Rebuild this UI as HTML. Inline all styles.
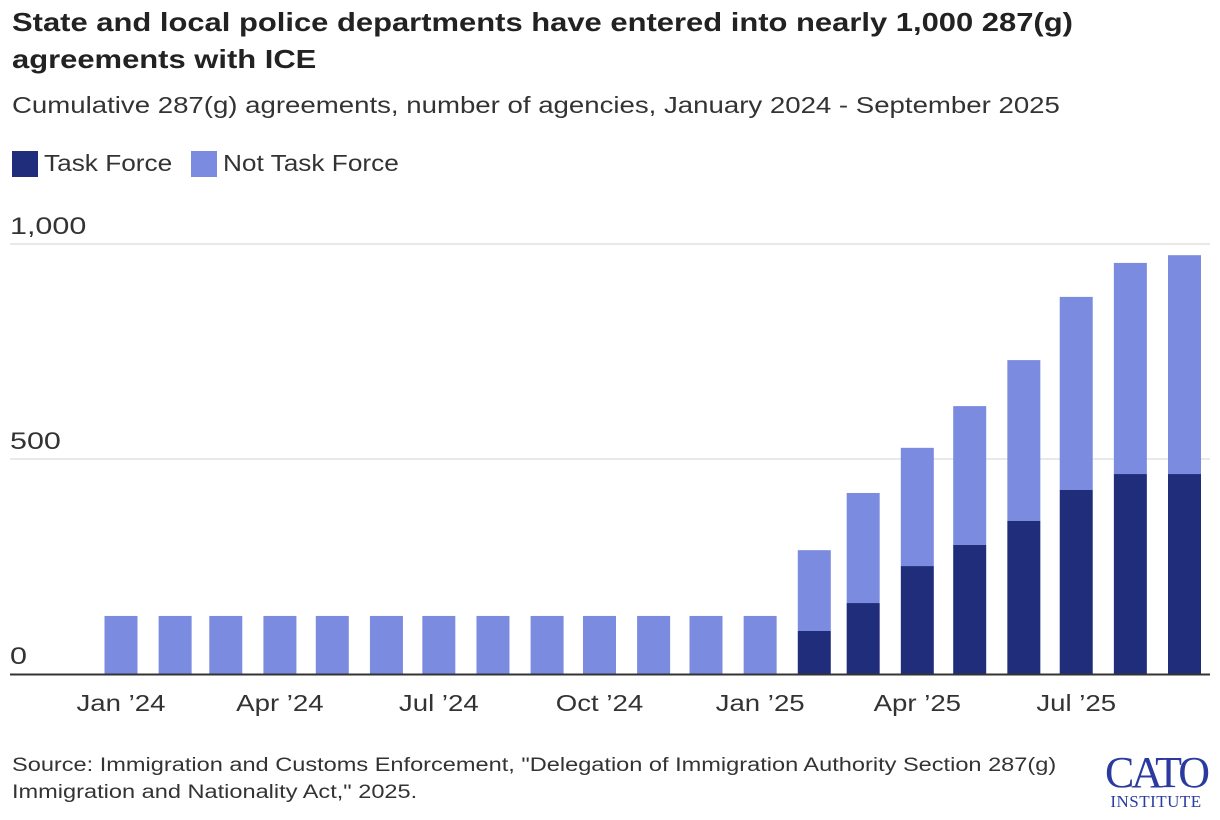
<!DOCTYPE html>
<html><head><meta charset="utf-8"><style>
body{margin:0;width:1220px;height:820px;background:#fff;font-family:"Liberation Sans",sans-serif;color:#222;overflow:hidden;position:relative}
.t{position:absolute;left:12px;top:4px;font-size:26px;font-weight:bold;line-height:37px;width:940px;transform:scaleX(1.19);transform-origin:left top;white-space:normal}
.s{position:absolute;left:12px;top:92px;font-size:23px;color:#333;transform:scaleX(1.2);transform-origin:left top;white-space:nowrap}
.lg{position:absolute;top:150px;font-size:23px;color:#333;display:flex;align-items:center;white-space:nowrap}
.lg span.tx{display:inline-block;transform:scaleX(1.14);transform-origin:left center}
.sw{width:26px;height:26px;display:inline-block;margin-right:6px}
.src{position:absolute;left:12px;top:752px;font-size:19px;line-height:27px;color:#333;transform:scaleX(1.24);transform-origin:left top;white-space:nowrap}
</style></head><body>
<div class="t">State and local police departments have entered into nearly 1,000 287(g) agreements with ICE</div>
<div class="s">Cumulative 287(g) agreements, number of agencies, January 2024 - September 2025</div>
<div class="lg" style="left:12px"><span class="sw" style="background:#202d7b"></span><span class="tx">Task Force</span></div>
<div class="lg" style="left:191px"><span class="sw" style="background:#7b8be0"></span><span class="tx">Not Task Force</span></div>
<svg id="c" width="1220" height="820" style="position:absolute;left:0;top:0"></svg>
<div class="src">Source: Immigration and Customs Enforcement, "Delegation of Immigration Authority Section 287(g)<br>Immigration and Nationality Act," 2025.</div>
<div style="position:absolute;left:1100px;top:752px;width:112px;text-align:center;color:#2a3a9e;font-family:'Liberation Serif',serif">
<div style="font-size:44px;line-height:42px;letter-spacing:-3px">CATO</div>
<div style="font-size:17px;line-height:16px;letter-spacing:0.5px">INSTITUTE</div></div>
<script>
const months=["2024-01","2024-02","2024-03","2024-04","2024-05","2024-06","2024-07","2024-08","2024-09","2024-10","2024-11","2024-12","2025-01","2025-02","2025-03","2025-04","2025-05","2025-06","2025-07","2025-08","2025-09"];
const taskForce=[0,0,0,0,0,0,0,0,0,0,0,0,0,100,165,251,300,356,428,465,465];
const total=[135,135,135,135,135,135,135,135,135,135,135,135,135,288,421,526,623,730,877,956,974];
const yTicks=[0,500,1000];
const yTickLabels=["0","500","1,000"];
const xTickMonths=["2024-01","2024-04","2024-07","2024-10","2025-01","2025-04","2025-07"];
const xTickLabels=["Jan \u201924","Apr \u201924","Jul \u201924","Oct \u201924","Jan \u201925","Apr \u201925","Jul \u201925"];
const svg=document.getElementById('c'),NS="http://www.w3.org/2000/svg";
const d0=Date.UTC(2024,0,1);
function x(m){const[a,b]=m.split('-').map(Number);return 121+(Date.UTC(a,b-1,1)-d0)/864e5*1.7463;}
function y(v){return 674-v*0.43;}
function el(t,a){const e=document.createElementNS(NS,t);for(const k in a)e.setAttribute(k,a[k]);svg.appendChild(e);return e;}
function stretch(t,f){const L=t.getComputedTextLength();t.setAttribute('textLength',L*f);t.setAttribute('lengthAdjust','spacingAndGlyphs');}
yTicks.forEach((v,i)=>{
 if(v>0){const l=el('line',{x1:10,x2:1210,y1:y(v),y2:y(v),stroke:'#e2e2e2','stroke-width':1.5});
 
 }
 const t=el('text',{x:10,y:y(v)-10,'font-size':24,fill:'#333','font-family':'Liberation Sans'});t.textContent=yTickLabels[i];
 
 
 stretch(t,1.27);
});
months.forEach((m,i)=>{
 const cx=x(m),w=33;
 const r1=el('rect',{x:cx-w/2,y:y(total[i]),width:w,height:y(taskForce[i])-y(total[i]),fill:'#7b8be0'});
 
 
 if(taskForce[i]>0){const r2=el('rect',{x:cx-w/2,y:y(taskForce[i]),width:w,height:y(0)-y(taskForce[i]),fill:'#202d7b'});
 
 }
});
const ax=el('line',{x1:10,x2:1210,y1:674.5,y2:674.5,stroke:'#333','stroke-width':2});


xTickMonths.forEach((m,i)=>{
 const t=el('text',{x:x(m),y:711,'font-size':23,fill:'#333','font-family':'Liberation Sans'});t.textContent=xTickLabels[i];
 
 
 const L=t.getComputedTextLength()*1.2;
 t.setAttribute('x',x(m)-L/2);
 stretch(t,1.2);
});
</script>
</body></html>
